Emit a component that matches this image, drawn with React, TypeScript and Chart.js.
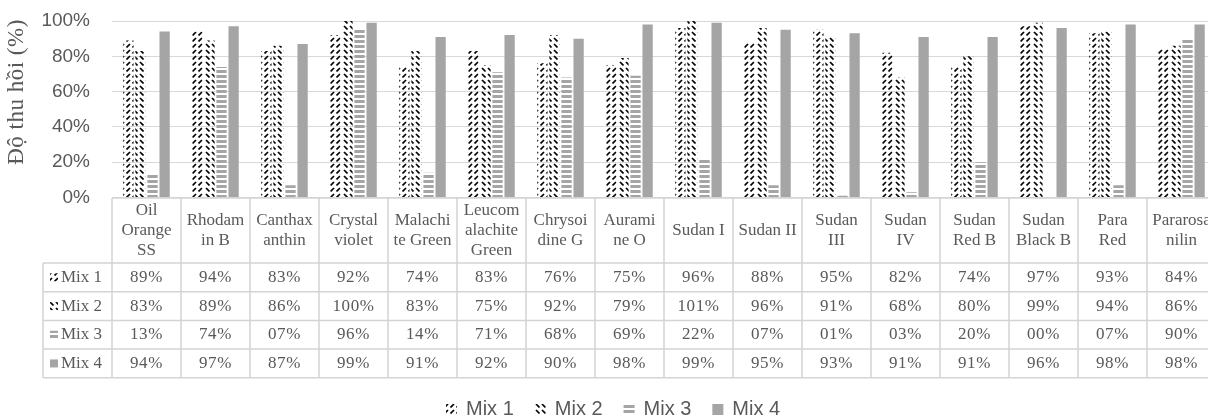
import React, { useEffect, useRef } from "react";
import { Chart, registerables } from "chart.js";

Chart.register(...registerables);

// ---- data ----
const categoryLines: string[][] = [
  ["Oil", "Orange", "SS"],
  ["Rhodam", "in B"],
  ["Canthax", "anthin"],
  ["Crystal", "violet"],
  ["Malachi", "te Green"],
  ["Leucom", "alachite", "Green"],
  ["Chrysoi", "dine G"],
  ["Aurami", "ne O"],
  ["Sudan I"],
  ["Sudan II"],
  ["Sudan", "III"],
  ["Sudan", "IV"],
  ["Sudan", "Red B"],
  ["Sudan", "Black B"],
  ["Para", "Red"],
  ["Pararosa", "nilin"],
];
const seriesNames = ["Mix 1", "Mix 2", "Mix 3", "Mix 4"];
const mix1 = [89, 94, 83, 92, 74, 83, 76, 75, 96, 88, 95, 82, 74, 97, 93, 84];
const mix2 = [83, 89, 86, 100, 83, 75, 92, 79, 101, 96, 91, 68, 80, 99, 94, 86];
const mix3 = [13, 74, 7, 96, 14, 71, 68, 69, 22, 7, 1, 3, 20, 0, 7, 90];
const mix4 = [94, 97, 87, 99, 91, 92, 90, 98, 99, 95, 93, 91, 91, 96, 98, 98];
const yAxisTitle = "Độ thu hồi (%)";
const yMin = 0;
const yMax = 100;
const yStep = 20;

const TEXT = "#595959";
const GRID = "#d9d9d9";
const TABLE_LINE = "#d4d4d4";
const GREY_FILL = "#a5a5a5";
const SANS = "'Liberation Sans', Arial, sans-serif";
const SERIF = "'Liberation Serif', 'Times New Roman', serif";

function makePattern(kind: string): CanvasPattern | string {
  if (kind === "solid") return GREY_FILL;
  const tile = document.createElement("canvas");
  const c = tile.getContext("2d")!;
  if (kind === "hdash") {
    tile.width = 12;
    tile.height = 5;
    c.fillStyle = GREY_FILL;
    c.fillRect(0, 0, 12, 3);
  } else {
    tile.width = 6;
    tile.height = 6;
    c.strokeStyle = "#000";
    c.lineWidth = 1.7;
    c.lineCap = "butt";
    c.beginPath();
    if (kind === "up") {
      c.moveTo(0.5, 5.5);
      c.lineTo(4, 2);
    } else {
      c.moveTo(5.5, 5.5);
      c.lineTo(2, 2);
    }
    c.stroke();
  }
  const p = c.createPattern(tile, "repeat");
  return p || GREY_FILL;
}

const fmt = (v: number) => String(v).padStart(2, "0") + "%";

export default function App() {
  const ref = useRef<HTMLCanvasElement | null>(null);

  useEffect(() => {
    const canvas = ref.current;
    if (!canvas) return;
    const fills = [makePattern("up"), makePattern("down"), makePattern("hdash"), makePattern("solid")];
    const seriesData = [mix1, mix2, mix3, mix4];

    const tablePlugin = {
      id: "dataTable",
      afterDraw(chart: any) {
        const ctx: CanvasRenderingContext2D = chart.ctx;
        const area = chart.chartArea;
        const x = chart.scales.x;
        const n = categoryLines.length;
        const w = (area.right - area.left) / n;
        const top = area.bottom + 0.5;
        const headerH = 65;
        const rowH = 28.7;
        const labelLeft = 43;
        const bottom = top + headerH + rowH * 4;

        ctx.save();
        // lines
        ctx.strokeStyle = TABLE_LINE;
        ctx.lineWidth = 1.5;
        ctx.beginPath();
        ctx.moveTo(area.left, top);
        ctx.lineTo(area.right + 20, top);
        for (let r = 0; r <= 4; r++) {
          const yy = top + headerH + r * rowH;
          ctx.moveTo(labelLeft, yy);
          ctx.lineTo(area.right + 20, yy);
        }
        for (let i = 0; i <= n; i++) {
          const xx = area.left + i * w;
          ctx.moveTo(xx, top);
          ctx.lineTo(xx, bottom);
        }
        ctx.moveTo(labelLeft, top + headerH);
        ctx.lineTo(labelLeft, bottom);
        ctx.stroke();

        // header text
        ctx.fillStyle = TEXT;
        ctx.font = `17px ${SERIF}`;
        ctx.textAlign = "center";
        ctx.textBaseline = "middle";
        const hc = top + headerH / 2;
        const lh = 20;
        categoryLines.forEach((lines, i) => {
          const cx = x.getPixelForValue(i);
          const start = hc - ((lines.length - 1) * lh) / 2;
          lines.forEach((ln, k) => ctx.fillText(ln, cx, start + k * lh));
        });

        // values
        seriesData.forEach((arr, r) => {
          const cy = top + headerH + r * rowH + rowH / 2;
          (ctx as any).letterSpacing = "0.6px";
          arr.forEach((v, i) => {
            ctx.fillText(fmt(v), x.getPixelForValue(i), cy);
          });
          (ctx as any).letterSpacing = "0px";
          // row label
          const mx = 50;
          ctx.fillStyle = fills[r] as any;
          ctx.fillRect(mx, cy - 4, 8, 8);
          ctx.fillStyle = TEXT;
          ctx.textAlign = "left";
          ctx.fillText(seriesNames[r], 61, cy);
          ctx.textAlign = "center";
        });

        // y title
        ctx.save();
        ctx.translate(17, 92);
        ctx.rotate(-Math.PI / 2);
        ctx.font = `23px ${SERIF}`;
        (ctx as any).letterSpacing = "0.5px";
        ctx.fillStyle = TEXT;
        ctx.textAlign = "center";
        ctx.textBaseline = "middle";
        ctx.fillText(yAxisTitle, 0, 0);
        ctx.restore();

        // legend
        ctx.font = `20px ${SANS}`;
        ctx.textAlign = "left";
        ctx.textBaseline = "middle";
        let lx = 446;
        const ly = 409;
        seriesNames.forEach((name, r) => {
          ctx.fillStyle = fills[r] as any;
          ctx.fillRect(lx, ly - 5, 11, 11);
          ctx.fillStyle = TEXT;
          ctx.fillText(name, lx + 20, ly);
          lx += 20 + ctx.measureText(name).width + 21;
        });
        ctx.restore();
      },
    };

    const chart = new Chart(canvas, {
      type: "bar",
      data: {
        labels: categoryLines.map((l) => l.join(" ")),
        datasets: seriesNames.map((name, r) => ({
          label: name,
          data: seriesData[r],
          backgroundColor: fills[r] as any,
          borderWidth: 0,
          categoryPercentage: 0.7,
          barPercentage: 0.85,
        })),
      },
      options: {
        responsive: false,
        animation: false,
        devicePixelRatio: 1,
        layout: { padding: { top: 21, bottom: 221.5, left: 0, right: 16 } },
        plugins: { legend: { display: false }, tooltip: { enabled: false } },
        scales: {
          x: { display: false },
          y: {
            min: yMin,
            max: yMax,
            afterFit: (s: any) => {
              s.width = 112;
            },
            ticks: {
              stepSize: yStep,
              padding: 0,
              color: TEXT,
              font: { family: SANS, size: 19 },
              callback: (v: any) => `${v}%`,
            },
            grid: {
              color: GRID,
              lineWidth: 1,
              drawTicks: true,
              tickLength: 22,
              tickColor: "rgba(0,0,0,0)",
            },
            border: { display: false },
          },
        },
      },
      plugins: [tablePlugin],
    });
    return () => chart.destroy();
  }, []);

  return (
    <div style={{ position: "fixed", left: 0, top: 0, width: 1208, height: 419, overflow: "hidden", background: "#fff" }}>
      <canvas ref={ref} width={1232} height={419} style={{ display: "block" }} />
    </div>
  );
}
